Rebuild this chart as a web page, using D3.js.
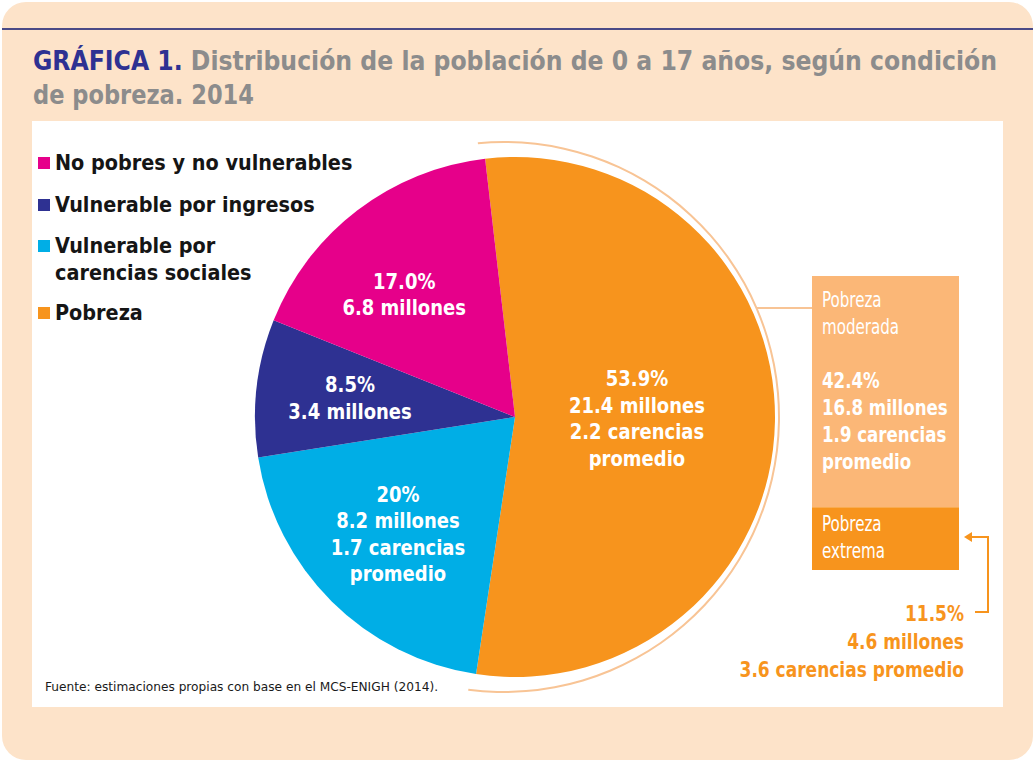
<!DOCTYPE html>
<html>
<head>
<meta charset="utf-8">
<script src="https://cdn.jsdelivr.net/npm/d3@7"></script>
<style>
  body { margin: 0; background: #ffffff; }
  svg { display: block; }
  .cond { font-family: "Liberation Sans Narrow", "DejaVu Sans Condensed", "Roboto Condensed", sans-serif; font-stretch: condensed; }
</style>
</head>
<body>
<svg id="chart" width="1035" height="764"></svg>
<script>
// ---- data ----
const titleLead = "GRÁFICA 1.";
const titleRest1 = " Distribución de la población de 0 a 17 años, según condición";
const titleLine2 = "de pobreza. 2014";
const categories = ["Pobreza", "Vulnerable por carencias sociales", "Vulnerable por ingresos", "No pobres y no vulnerables"];
const shares = [53.9, 20, 8.5, 17.0];
const shareLabels = ["53.9%", "20%", "8.5%", "17.0%"];
const millions = ["21.4", "8.2", "3.4", "6.8"];
const carencias = ["2.2", "1.7", null, null];
const legendOrder = ["No pobres y no vulnerables", "Vulnerable por ingresos", "Vulnerable por carencias sociales", "Pobreza"];
const legendLines = [["No pobres y no vulnerables"], ["Vulnerable por ingresos"], ["Vulnerable por", "carencias sociales"], ["Pobreza"]];
const povertyTypes = ["Pobreza moderada", "Pobreza extrema"];
const povertyNameLines = [["Pobreza", "moderada"], ["Pobreza", "extrema"]];
const povertyShares = [42.4, 11.5];
const povertyShareLabels = ["42.4%", "11.5%"];
const povertyMillions = ["16.8", "4.6"];
const povertyCarencias = ["1.9", "3.6"];
const sourceText = "Fuente: estimaciones propias con base en el MCS-ENIGH (2014).";

// ---- style ----
const colorMap = {
  "Pobreza": "#f7941d",
  "Vulnerable por carencias sociales": "#00aee6",
  "Vulnerable por ingresos": "#2e3192",
  "No pobres y no vulnerables": "#e6008a"
};
const povertyColors = ["#fbb777", "#f7941d"];
const peach = "#fde3c9";

// narrow a text element horizontally by a factor (keeps glyph height)
function condense(sel, k) {
  const len = sel.node().getComputedTextLength();
  sel.attr("textLength", len * k).attr("lengthAdjust", "spacingAndGlyphs");
  return sel;
}

const svg = d3.select("#chart");

// background frame
svg.append("rect").attr("x", 2).attr("y", 2).attr("width", 1031).attr("height", 758)
  .attr("rx", 24).attr("fill", peach);
svg.append("line").attr("x1", 2).attr("x2", 1033).attr("y1", 29).attr("y2", 29)
  .attr("stroke", "#4a4a86").attr("stroke-width", 2);
svg.append("rect").attr("x", 32).attr("y", 121).attr("width", 971).attr("height", 586).attr("fill", "#ffffff");

// title
const t1 = svg.append("text").attr("class", "cond").attr("x", 33).attr("y", 70)
  .attr("font-size", 26).attr("font-weight", "bold")
  .attr("textLength", 964).attr("lengthAdjust", "spacingAndGlyphs");
t1.append("tspan").attr("fill", "#2e3192").text(titleLead);
t1.append("tspan").attr("fill", "#8c8c8c").text(titleRest1);
svg.append("text").attr("class", "cond").attr("x", 33).attr("y", 104)
  .attr("font-size", 26).attr("font-weight", "bold").attr("fill", "#8c8c8c")
  .attr("textLength", 221).attr("lengthAdjust", "spacingAndGlyphs")
  .text(titleLine2);

// legend
const legendY = [163, 205, 246, 313];
const legend = svg.append("g");
legendOrder.forEach((cat, i) => {
  legend.append("rect").attr("x", 38).attr("y", legendY[i] - 6).attr("width", 12).attr("height", 12)
    .attr("fill", colorMap[cat]);
  legendLines[i].forEach((ln, j) => {
    const t = legend.append("text").attr("class", "cond").attr("x", 55).attr("y", legendY[i] + 7 + j * 27)
      .attr("font-size", 21.5).attr("font-weight", "bold").attr("fill", "#151515")
      .text(ln);
    condense(t, 0.995);
  });
});

// pie
const cx = 515, cy = 417, R = 260;
const startA = -6.6 * Math.PI / 180;
const pie = d3.pie().sort(null).value(d => d.v).startAngle(startA).endAngle(startA + 2 * Math.PI);
const data = categories.map((c, i) => ({ c, v: shares[i], i }));
const arcs = pie(data);
const arc = d3.arc().innerRadius(0).outerRadius(R);
const g = svg.append("g").attr("transform", `translate(${cx},${cy})`);
g.selectAll("path.slice").data(arcs).join("path").attr("class", "slice")
  .attr("d", arc).attr("fill", d => colorMap[d.data.c]);

// outer arc marking the poverty slice
const povArc = arcs[0];
const outline = d3.arc().innerRadius(R + 14).outerRadius(R + 16)
  .startAngle(povArc.startAngle + 0.02).endAngle(povArc.endAngle - 0.02);
svg.append("path").attr("transform", `translate(${cx - 11},${cy})`)
  .attr("d", outline()).attr("fill", "#f8c495");

// slice labels
const smallLabel = d3.arc().innerRadius(166).outerRadius(166);
const bigLabel = d3.arc().innerRadius(122).outerRadius(122);
arcs.forEach(a => {
  const i = a.data.i;
  const lines = [shareLabels[i], `${millions[i]} millones`];
  if (carencias[i]) { lines.push(`${carencias[i]} carencias`, "promedio"); }
  const big = (a.endAngle - a.startAngle) > Math.PI;
  let [lx, ly] = (big ? bigLabel : smallLabel).centroid(a);
  // labels in the upper-left slice sit a bit lower/left in the original
  const mid = (a.startAngle + a.endAngle) / 2;
  if (!big && Math.cos(mid) > 0.5) { lx -= 10; ly += 10; }
  const lh = 26.5;
  const y0 = ly - (lines.length - 1) * lh / 2;
  lines.forEach((ln, j) => {
    const t = g.append("text").attr("class", "cond").attr("x", lx).attr("y", y0 + j * lh + 7)
      .attr("text-anchor", "middle").attr("font-size", 21.5).attr("font-weight", "bold")
      .attr("fill", "#ffffff").text(ln);
    condense(t, 0.93);
  });
});

// poverty breakdown bar
const boxX = 812, boxW = 147;
const y = d3.scaleLinear().domain([0, d3.sum(povertyShares)]).range([276, 570]);
let acc = 0;
povertyShares.forEach((s, i) => {
  const y0 = y(acc), y1 = y(acc + s);
  svg.append("rect").attr("x", boxX).attr("y", y0).attr("width", boxW).attr("height", y1 - y0)
    .attr("fill", povertyColors[i]);
  const firstBase = y0 + (i === 0 ? 31 : 24);
  povertyNameLines[i].forEach((ln, j) => {
    const t = svg.append("text").attr("class", "cond").attr("x", boxX + 10).attr("y", firstBase + j * 27)
      .attr("font-size", 21.5).attr("fill", "#ffffff").text(ln);
    condense(t, 0.78);
  });
  acc += s;
});
// moderate details inside box
const modLines = [povertyShareLabels[0], `${povertyMillions[0]} millones`, `${povertyCarencias[0]} carencias`, "promedio"];
modLines.forEach((ln, j) => {
  const t = svg.append("text").attr("class", "cond").attr("x", boxX + 10).attr("y", 388 + j * 27)
    .attr("font-size", 21.5).attr("font-weight", "bold").attr("fill", "#ffffff").text(ln);
  condense(t, 0.86);
});

// connector from arc to box
const connY = 308;
const arcX = (cx - 11) + Math.sqrt((R + 15) ** 2 - (connY - cy) ** 2);
svg.append("line").attr("x1", arcX).attr("x2", boxX).attr("y1", connY).attr("y2", connY)
  .attr("stroke", "#f8c495").attr("stroke-width", 2);

// extreme poverty bracket
const brY1 = 537, brY2 = 612, brX = 988;
svg.append("path").attr("d", `M${brX - 13},${brY2} H${brX} V${brY1} H${970}`)
  .attr("fill", "none").attr("stroke", "#f7941d").attr("stroke-width", 2);
svg.append("path").attr("d", `M964,${brY1} L972,${brY1 - 5} L972,${brY1 + 5} Z`).attr("fill", "#f7941d");
const extLines = [povertyShareLabels[1], `${povertyMillions[1]} millones`, `${povertyCarencias[1]} carencias promedio`];
extLines.forEach((ln, j) => {
  const t = svg.append("text").attr("class", "cond").attr("x", 964).attr("y", 621 + j * 28)
    .attr("text-anchor", "end").attr("font-size", 21.5).attr("font-weight", "bold")
    .attr("fill", "#f7941d").text(ln);
  condense(t, 0.88);
});

// source
svg.append("text").attr("class", "cond").attr("x", 45).attr("y", 691)
  .attr("font-size", 13).attr("fill", "#1a1a1a")
  .attr("textLength", 393).attr("lengthAdjust", "spacingAndGlyphs").text(sourceText);
</script>
</body>
</html>
